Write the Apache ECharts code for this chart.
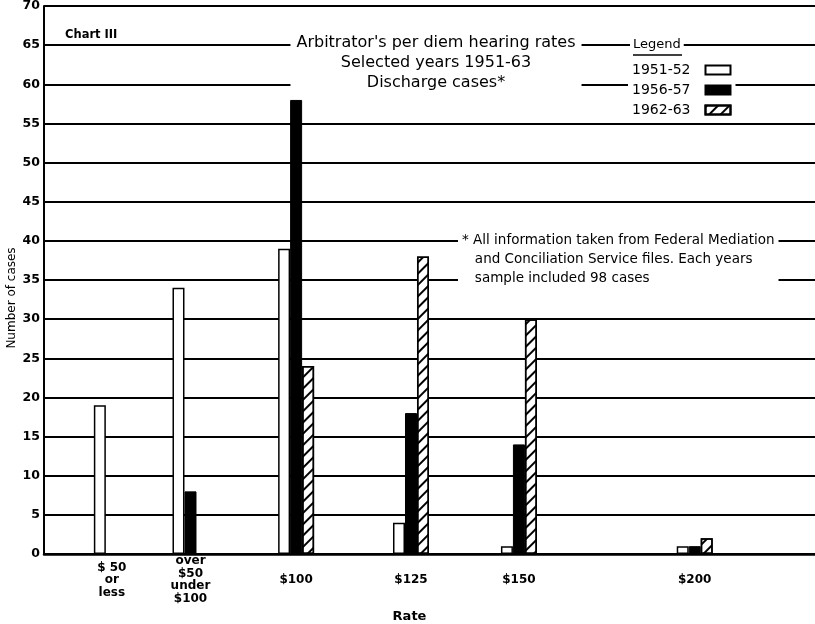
<!DOCTYPE html>
<html>
<head>
<meta charset="utf-8">
<script src="https://cdn.jsdelivr.net/npm/echarts@6/dist/echarts.min.js"></script>
<style>
  body { margin: 0; background: #fff; }
  #chart { width: 815px; height: 624px; }
</style>
</head>
<body>
<div id="chart"></div>
<script>
// rate groups and where they sit along the (hidden) x scale
var rates = ['$ 50\nor\nless', 'over\n$50\nunder\n$100', '$100', '$125', '$150', '$200'];
var ratePos = [8.8, 19, 32.7, 47.6, 61.6, 84.4];

// number of cases per year
var y1951 = [19, 34, 39, 4, 1, 1];
var y1956 = ['-', 8, 58, 18, 14, 1];
var y1962 = ['-', '-', 24, 38, 30, 2];

var yTicks = [0, 70, 5];

function pairs(vals) {
  return vals.map(function (v, i) { return [ratePos[i], v]; });
}

var font = 'DejaVu Sans';
var chart = echarts.init(document.getElementById('chart'));

chart.setOption({
  backgroundColor: '#fff',
  animation: false,
  textStyle: { fontFamily: font, color: '#000' },
  grid: { left: 44, right: 0, top: 6, bottom: 70, outerBoundsMode: 'none' },
  title: [
    {
      text: "Arbitrator's per diem hearing rates\nSelected years 1951-63\nDischarge cases*",
      left: 430, top: 31, textAlign: 'center',
      backgroundColor: '#fff', padding: [2, 6],
      textStyle: { fontSize: 16, fontWeight: 'normal', lineHeight: 20, fontFamily: font, color: '#000' }
    },
    {
      text: 'Chart III', left: 60, top: 24,
      textStyle: { fontSize: 11.5, fontWeight: 'bold', fontFamily: font, color: '#000' }
    }
  ],
  legend: {
    data: ['1951-52', '1956-57', '1962-63'],
    orient: 'vertical', left: 628, top: 61,
    align: 'right', icon: 'rect', itemWidth: 25, itemHeight: 9, itemGap: 6,
    backgroundColor: '#fff', padding: [2, 4],
    textStyle: { fontSize: 14, fontFamily: font, color: '#000', padding: [0, 10, 0, 0] }
  },
  graphic: [
    {
      type: 'text', left: 630, top: 36, z: 100,
      style: { text: 'Legend', font: '13px "DejaVu Sans"', fill: '#000',
        backgroundColor: '#fff', padding: [2, 3] }
    },
    {
      type: 'line', z: 100, shape: { x1: 633, y1: 55, x2: 682, y2: 55 },
      style: { stroke: '#000', lineWidth: 1.5 }
    },
    {
      type: 'text', left: 458, top: 230, z: 100,
      style: {
        text: '* All information taken from Federal Mediation\n   and Conciliation Service files. Each years\n   sample included 98 cases',
        font: '13.5px "DejaVu Sans"', lineHeight: 19, fill: '#000',
        backgroundColor: '#fff', padding: [1, 4]
      }
    },
    {
      // y axis title
      type: 'text', x: 12, y: 298, rotation: Math.PI / 2, z: 100,
      style: { text: 'Number of cases', font: '12px "DejaVu Sans"', fill: '#000',
        align: 'center', verticalAlign: 'middle' }
    }
  ],
  xAxis: {
    type: 'value', min: 0, max: 100,
    name: 'Rate', nameLocation: 'middle', nameGap: 55,
    nameTextStyle: { fontSize: 13, fontWeight: 'bold', padding: [0, 40, 0, 0] },
    axisLine: { show: true, lineStyle: { color: '#000', width: 2.5 } },
    axisTick: { show: false },
    splitLine: { show: false },
    axisLabel: {
      customValues: ratePos,
      formatter: function (v) { return rates[ratePos.indexOf(v)]; },
      verticalAlign: 'middle', margin: 26,
      fontSize: 12, fontWeight: 'bold', lineHeight: 12.5, color: '#000', align: 'center'
    }
  },
  yAxis: {
    type: 'value', min: yTicks[0], max: yTicks[1], interval: yTicks[2],
    axisLine: { show: true, lineStyle: { color: '#000', width: 2 } },
    axisTick: { show: false },
    axisLabel: { fontSize: 12.5, fontWeight: 'bold', color: '#000', margin: 4 },
    splitLine: { lineStyle: { color: '#000', width: 2 } }
  },
  series: [
    {
      name: '1951-52', type: 'bar', barWidth: 12, barGap: '0%',
      data: pairs(y1951),
      itemStyle: { color: '#fff', borderColor: '#000', borderWidth: 1.5 }
    },
    {
      name: '1956-57', type: 'bar', barWidth: 12, barGap: '0%',
      data: pairs(y1956),
      itemStyle: { color: '#000', borderColor: '#000', borderWidth: 1 }
    },
    {
      name: '1962-63', type: 'bar', barWidth: 12, barGap: '0%',
      data: pairs(y1962),
      itemStyle: {
        color: '#fff', borderColor: '#000', borderWidth: 1.5,
        decal: {
          symbol: 'rect', symbolSize: 1, color: '#000',
          dashArrayX: [1, 0], dashArrayY: [1.2, 6],
          rotation: -Math.PI / 4
        }
      }
    }
  ]
});
</script>
</body>
</html>
